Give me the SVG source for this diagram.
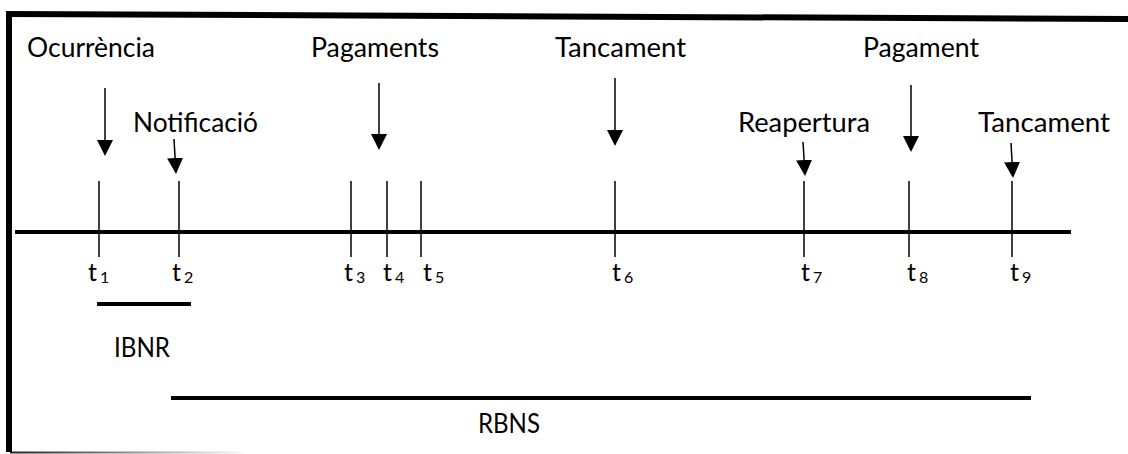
<svg xmlns="http://www.w3.org/2000/svg" width="1128" height="454" viewBox="0 0 1128 454">
<style>
.lbl{font-family:Lato,"Open Sans","Liberation Sans",sans-serif;font-size:26px;fill:#000}
.t{font-family:Lato,"Open Sans","Liberation Sans",sans-serif;font-size:25px;fill:#000}
.sub{font-size:16px}
.tick{stroke:#000;stroke-width:1.5}
.arr{stroke:#000;stroke-width:1.5;marker-end:url(#head)}
.bar{stroke:#000;stroke-width:4}
</style>
<defs>
<marker id="head" viewBox="0 0 16 16" refX="0" refY="8" markerWidth="16" markerHeight="16" markerUnits="userSpaceOnUse" orient="auto">
<path d="M0,0 L16,8 L0,16 z" fill="#000"/>
</marker>
<linearGradient id="fade" x1="0" y1="0" x2="1" y2="0">
<stop offset="0" stop-color="#222"/>
<stop offset="1" stop-color="#fff"/>
</linearGradient>
</defs>
<rect width="1128" height="454" fill="#fff"/>
<g id="frame">
<line x1="6" y1="14" x2="1128" y2="19" stroke="#000" stroke-width="6"/>
<line x1="9" y1="12" x2="9" y2="452" stroke="#000" stroke-width="6"/>
<rect x="10" y="451.5" width="240" height="2" fill="url(#fade)"/>
</g>
<g id="timeline">
<line x1="15" y1="232" x2="1071" y2="232" stroke="#000" stroke-width="4"/>
<line class="tick" x1="99" y1="181" x2="99" y2="257"/>
<line class="tick" x1="179" y1="181" x2="179" y2="257"/>
<line class="tick" x1="351" y1="181" x2="351" y2="257"/>
<line class="tick" x1="387" y1="181" x2="387" y2="257"/>
<line class="tick" x1="421" y1="181" x2="421" y2="257"/>
<line class="tick" x1="615" y1="181" x2="615" y2="257"/>
<line class="tick" x1="804" y1="181" x2="804" y2="257"/>
<line class="tick" x1="909" y1="181" x2="909" y2="257"/>
<line class="tick" x1="1012" y1="181" x2="1012" y2="257"/>
</g>
<g id="tlabels">
<text class="t" x="88" y="281">t<tspan class="sub" dx="3" dy="2">1</tspan></text>
<text class="t" x="172" y="281">t<tspan class="sub" dx="3" dy="2">2</tspan></text>
<text class="t" x="344" y="281">t<tspan class="sub" dx="3" dy="2">3</tspan></text>
<text class="t" x="383" y="281">t<tspan class="sub" dx="3" dy="2">4</tspan></text>
<text class="t" x="423" y="281">t<tspan class="sub" dx="3" dy="2">5</tspan></text>
<text class="t" x="612" y="281">t<tspan class="sub" dx="3" dy="2">6</tspan></text>
<text class="t" x="801" y="281">t<tspan class="sub" dx="3" dy="2">7</tspan></text>
<text class="t" x="907" y="281">t<tspan class="sub" dx="3" dy="2">8</tspan></text>
<text class="t" x="1010" y="281">t<tspan class="sub" dx="3" dy="2">9</tspan></text>
</g>
<g id="n-ocurrencia"><text class="lbl" x="27" y="57" textLength="128" lengthAdjust="spacingAndGlyphs">Ocurrència</text></g>
<g id="n-notificacio"><text class="lbl" x="133" y="132" textLength="125" lengthAdjust="spacingAndGlyphs">Notificació</text></g>
<g id="n-pagaments"><text class="lbl" x="311" y="57" textLength="128" lengthAdjust="spacingAndGlyphs">Pagaments</text></g>
<g id="n-tancament1"><text class="lbl" x="555" y="57" textLength="131" lengthAdjust="spacingAndGlyphs">Tancament</text></g>
<g id="n-reapertura"><text class="lbl" x="738" y="132" textLength="132" lengthAdjust="spacingAndGlyphs">Reapertura</text></g>
<g id="n-pagament"><text class="lbl" x="863" y="57" textLength="116" lengthAdjust="spacingAndGlyphs">Pagament</text></g>
<g id="n-tancament2"><text class="lbl" x="978" y="132" textLength="132" lengthAdjust="spacingAndGlyphs">Tancament</text></g>
<g id="n-ibnr">
<line class="bar" x1="97" y1="304" x2="191" y2="304"/>
<text class="lbl" x="114" y="357" textLength="56" lengthAdjust="spacingAndGlyphs">IBNR</text>
</g>
<g id="n-rbns">
<line class="bar" x1="171" y1="398" x2="1031" y2="398"/>
<text class="lbl" x="478" y="433" textLength="62" lengthAdjust="spacingAndGlyphs">RBNS</text>
</g>
<g id="connectors">
<line class="arr" x1="105" y1="88" x2="105" y2="140"/>
<line class="arr" x1="174" y1="139" x2="175.1" y2="158"/>
<line class="arr" x1="379" y1="83" x2="379" y2="134"/>
<line class="arr" x1="615" y1="78" x2="615" y2="130"/>
<line class="arr" x1="803" y1="142" x2="804.1" y2="160"/>
<line class="arr" x1="911" y1="85" x2="911" y2="136"/>
<line class="arr" x1="1011" y1="143" x2="1012.1" y2="162"/>
</g>
</svg>
